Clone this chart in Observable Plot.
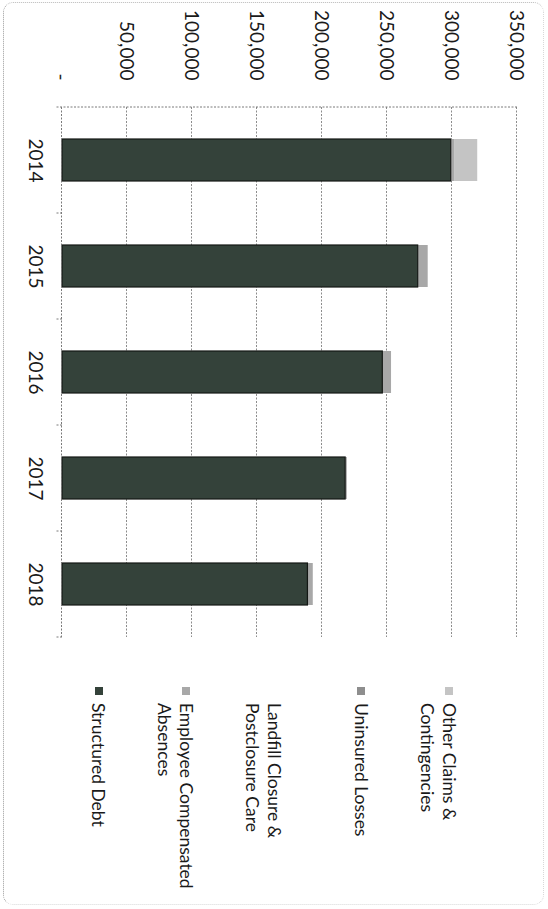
<!DOCTYPE html>
<html>
<head>
<meta charset="utf-8">
<script src="https://cdn.jsdelivr.net/npm/d3@7"></script>
<script src="https://cdn.jsdelivr.net/npm/@observablehq/plot@0.6"></script>
<style>
  html, body { margin: 0; padding: 0; background: #fff; overflow: hidden; }
  #rot {
    position: absolute; left: 0; top: 0; width: 909px; height: 548px;
    transform-origin: 0 0; transform: translate(548px, 0) rotate(90deg);
    font-family: Lato, "Open Sans", sans-serif; color: #1a1a1a;
  }
  #frame {
    position: absolute; left: 2px; top: 4px; width: 903px; height: 541px;
    box-sizing: border-box; border: 1px dotted #d8d8d8;
    border-bottom-color: #9a9a9a; border-left-color: #b8b8b8;
    border-radius: 10px; pointer-events: none;
  }
  #plot { position: absolute; left: 0; top: 0; }
  #legend { position: absolute; left: 687px; top: 0; width: 215px; height: 548px; }
  .item { position: absolute; left: 0; display: flex; align-items: flex-start;
          font-size: 17.5px; line-height: 21.5px; color: #1a1a1a; }
  .sw { width: 8px; height: 8px; margin-top: 6.75px; margin-right: 8px; flex: none; }
  .lab { width: 192px; }
</style>
</head>
<body>
<div id="rot">
  <div id="plot"></div>
  <div id="legend"></div>
  <div id="frame"></div>
</div>
<script>
// ---- data ----
const years = ["2014", "2015", "2016", "2017", "2018"];
const seriesNames = [
  "Structured Debt",
  "Employee Compensated Absences",
  "Landfill Closure & Postclosure Care",
  "Uninsured Losses",
  "Other Claims & Contingencies"
];
const seriesColors = ["#34423a", "#a8a8a8", "#ffffff", "#8e8e8e", "#c4c4c4"];
const structuredDebt   = [299000, 273600, 246400, 217800, 188800];
const employeeAbsences = [3000, 7700, 6700, 1300, 4100];
const landfillCare     = [0, 0, 0, 0, 0];
const uninsuredLosses  = [0, 0, 0, 0, 0];
const otherClaims      = [17400, 0, 0, 0, 0];
const yTicks = [0, 50000, 100000, 150000, 200000, 250000, 300000, 350000];
const legendOrder = [
  "Other Claims & Contingencies",
  "Uninsured Losses",
  "Landfill Closure & Postclosure Care",
  "Employee Compensated Absences",
  "Structured Debt"
];

const seriesValues = [structuredDebt, employeeAbsences, landfillCare, uninsuredLosses, otherClaims];
const rows = [];
seriesNames.forEach((s, i) => years.forEach((y, j) => rows.push({year: y, series: s, value: seriesValues[i][j]})));
const debtRows = years.map((y, j) => ({year: y, value: structuredDebt[j]}));

const chart = Plot.plot({
  width: 680,
  height: 548,
  marginLeft: 107,
  marginRight: 43,
  marginTop: 31,
  marginBottom: 62,
  style: {fontFamily: "Lato, 'Open Sans', sans-serif", fontSize: "19px", color: "#1a1a1a", background: "transparent"},
  x: {domain: years, paddingInner: 0.6, paddingOuter: 0.3, label: null, tickSize: 0, tickPadding: 19},
  y: {domain: [0, 350000], ticks: yTicks, tickFormat: d => d === 0 ? "-" : d3.format(",")(d),
      tickSize: 0, tickPadding: 27, label: null},
  color: {domain: seriesNames, range: seriesColors},
  marks: [
    Plot.ruleY(yTicks.slice(1), {stroke: "#8c8c8c", strokeDasharray: "2,1.5"}),
    Plot.barY(rows, {x: "year", y: "value", fill: "series", order: seriesNames}),
    Plot.barY(debtRows, {x: "year", y: "value", fill: "none", stroke: "#141815", strokeWidth: 1.2}),
    Plot.ruleY([0], {stroke: "#7a7a7a", strokeDasharray: "2,1.5"})
  ]
});
document.getElementById("plot").appendChild(chart);

// category-axis boundary ticks and value-axis line, placed with Plot's scales
const sx = chart.scale("x"), sy = chart.scale("y");
const bw = sx.bandwidth || 0;
const centers = years.map(y => sx.apply(y) + bw / 2);
const step = centers[1] - centers[0];
const bounds = centers.map(c => c - step / 2).concat([centers[centers.length - 1] + step / 2]);
const y0 = sy.apply(0), yTop = sy.apply(350000);
const g = d3.select(chart).append("g").attr("stroke", "#7a7a7a").attr("stroke-dasharray", "2,1.5");
bounds.forEach(b => g.append("line").attr("x1", b).attr("x2", b).attr("y1", y0).attr("y2", y0 + 7));
g.append("line").attr("x1", bounds[0]).attr("x2", bounds[0]).attr("y1", yTop).attr("y2", y0);

// legend
const colorOf = Object.fromEntries(seriesNames.map((s, i) => [s, seriesColors[i]]));
const legend = d3.select("#legend");
legendOrder.forEach((s, i) => {
  const it = legend.append("div").attr("class", "item").style("top", (88.25 + i * 87.6) + "px");
  it.append("div").attr("class", "sw").style("background", colorOf[s]);
  it.append("div").attr("class", "lab").text(s);
});
</script>
</body>
</html>
